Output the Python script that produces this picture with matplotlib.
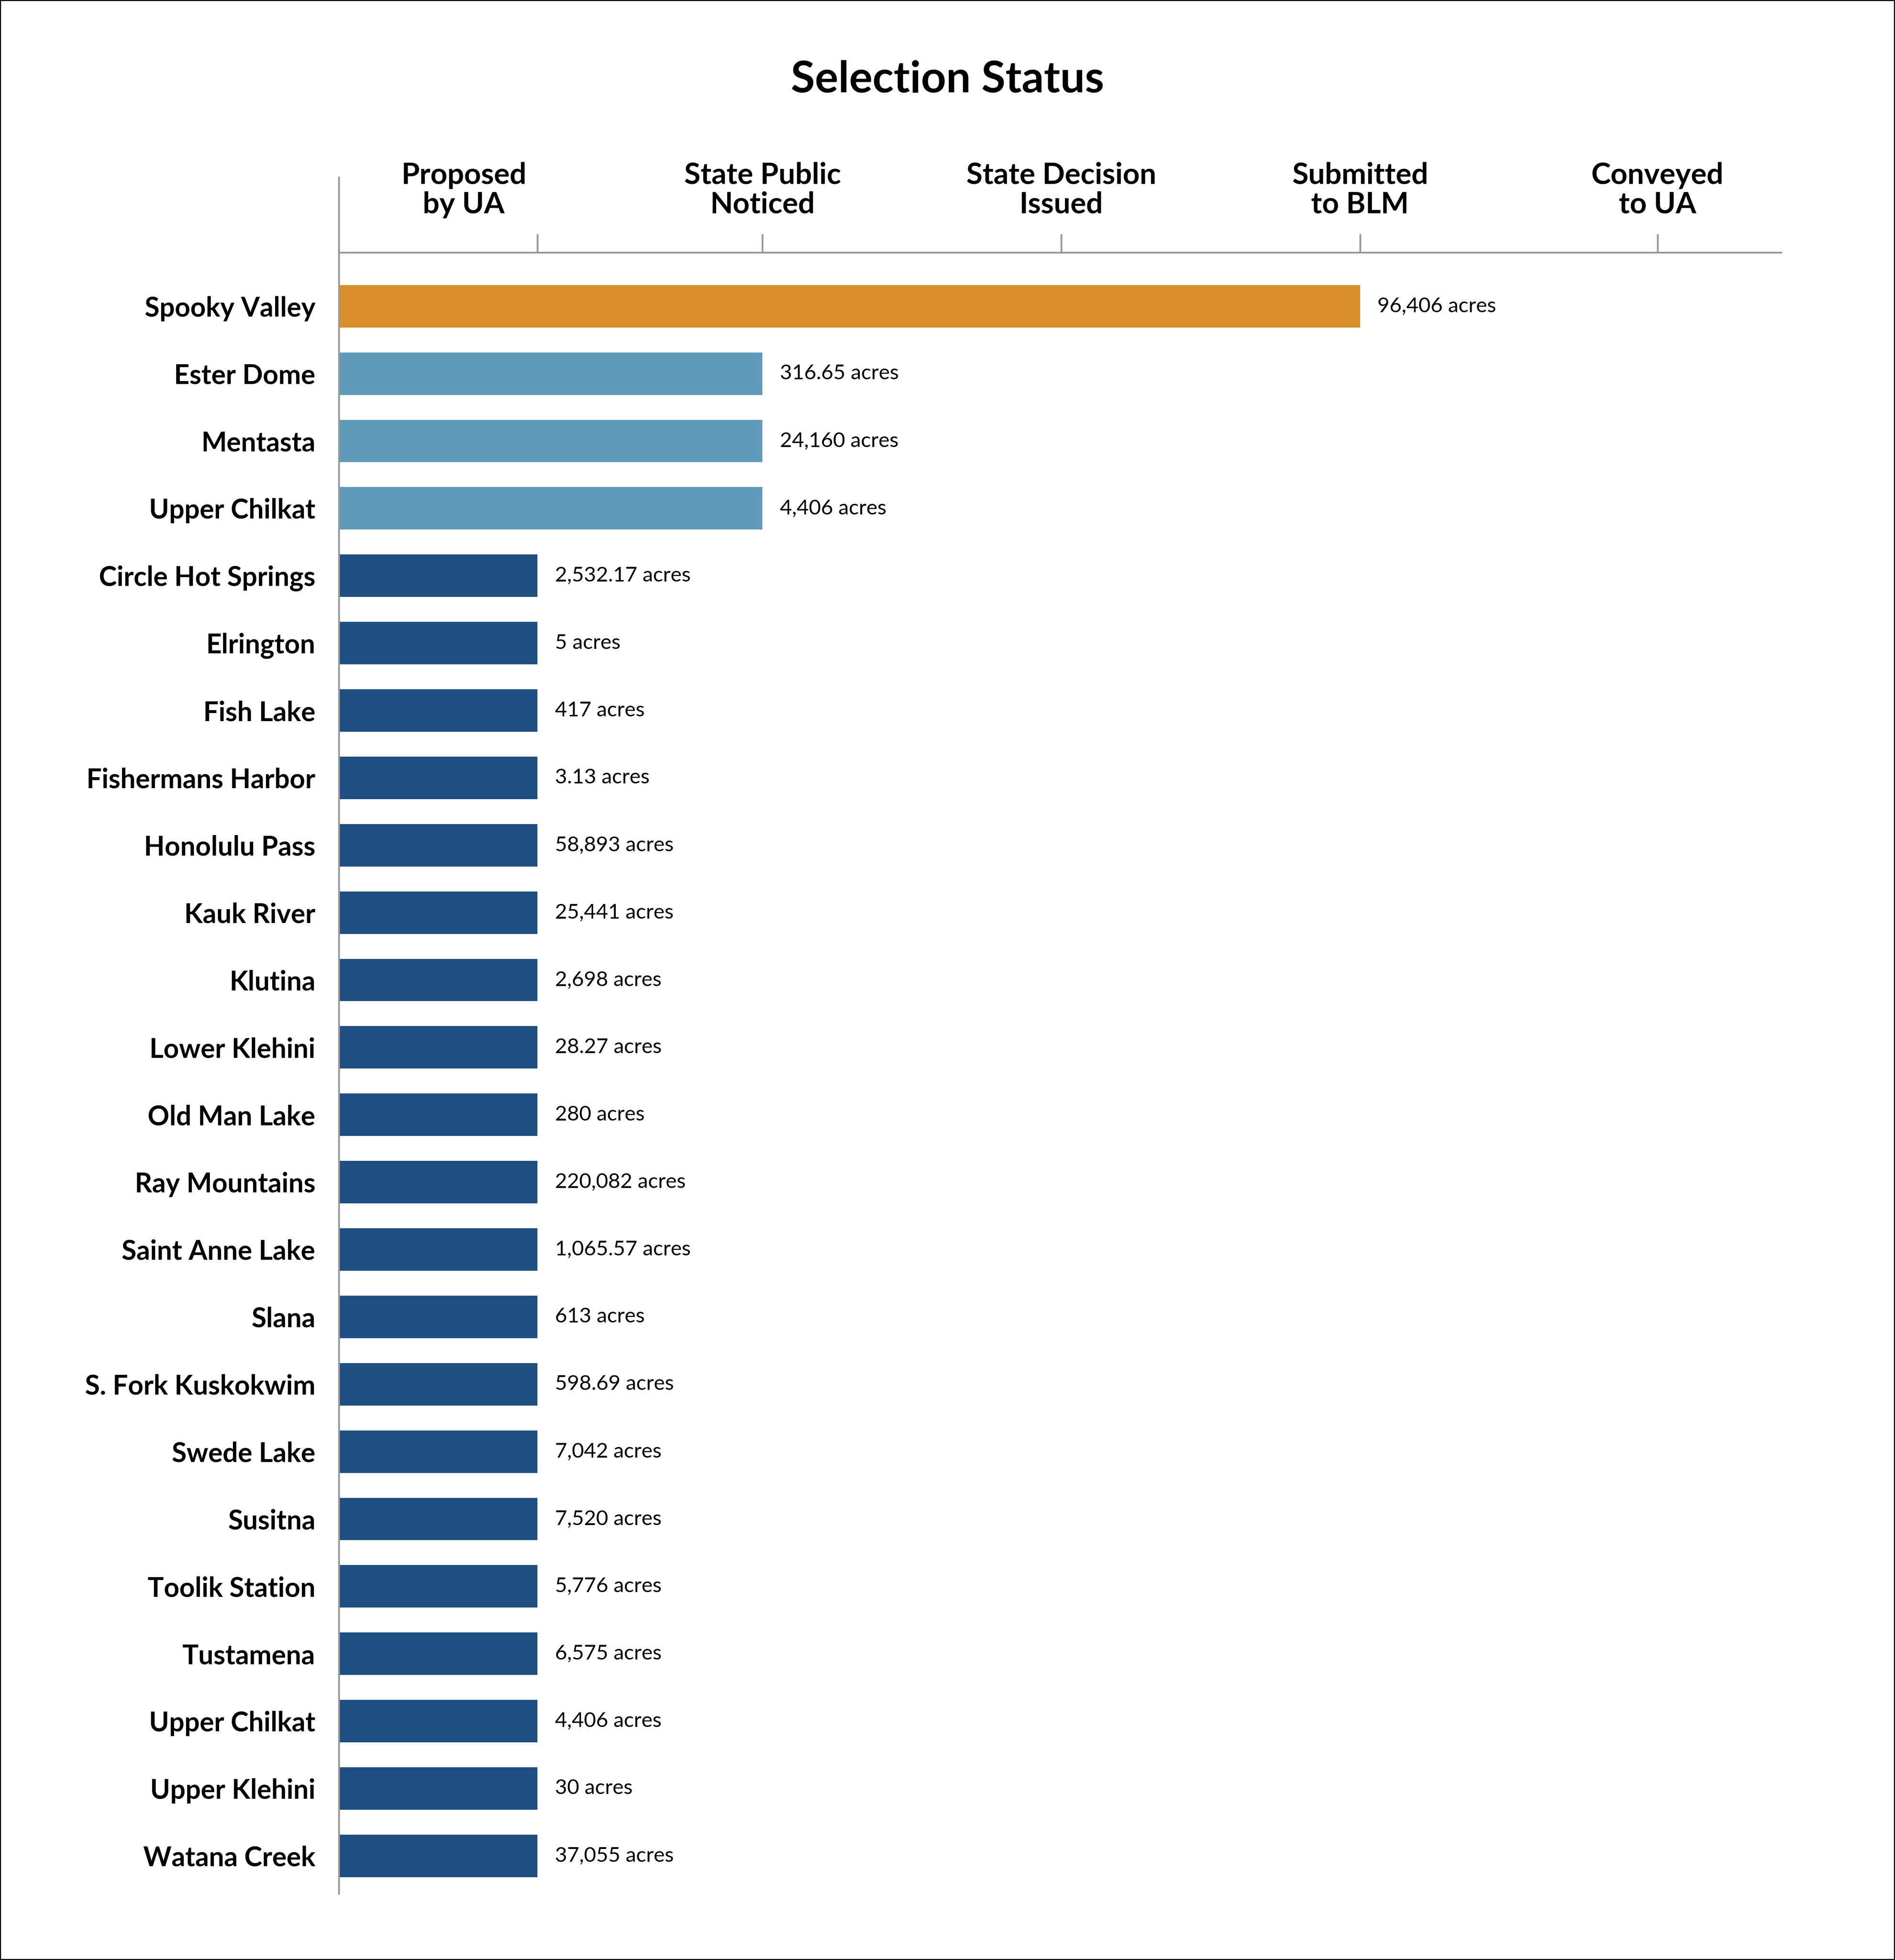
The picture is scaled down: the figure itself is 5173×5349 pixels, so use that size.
import matplotlib.pyplot as plt
from matplotlib.patches import Rectangle

sites = ["Spooky Valley", "Ester Dome", "Mentasta", "Upper Chilkat", "Circle Hot Springs",
         "Elrington", "Fish Lake", "Fishermans Harbor", "Honolulu Pass", "Kauk River",
         "Klutina", "Lower Klehini", "Old Man Lake", "Ray Mountains", "Saint Anne Lake",
         "Slana", "S. Fork Kuskokwim", "Swede Lake", "Susitna", "Toolik Station",
         "Tustamena", "Upper Chilkat", "Upper Klehini", "Watana Creek"]
acres = ["96,406", "316.65", "24,160", "4,406", "2,532.17", "5", "417", "3.13", "58,893",
         "25,441", "2,698", "28.27", "280", "220,082", "1,065.57", "613", "598.69",
         "7,042", "7,520", "5,776", "6,575", "4,406", "30", "37,055"]
# stage reached: 0 = proposed, 1 = state public noticed, 3 = submitted to BLM
stage = [3, 1, 1, 1] + [0] * 20

stages = ["Proposed\nby UA", "State Public\nNoticed", "State Decision\nIssued",
          "Submitted\nto BLM", "Conveyed\nto UA"]
stage_ends = [159, 339, 578, 817, 1055]      # tick positions along the axis
header_pos = [100, 339, 578, 817, 1055]      # header label centres
colors = {0: "#1E4F80", 1: "#5F9BB8", 3: "#D98F2B"}

W, H = 1516, 1568
fig = plt.figure(figsize=(51.73, 53.49), dpi=100)
fig.patches.append(Rectangle((0, 0), 1, 1, transform=fig.transFigure, fill=False,
                             edgecolor="black", linewidth=4))
ax = fig.add_axes([271 / W, 1 - 1515 / H, 1154 / W, (1515 - 142) / H])

row = 53.9
top = (142 - 245) / row
bot = (1515 - 245) / row
ax.set_ylim(bot, top)
ax.set_xlim(0, 1154)

ends = [stage_ends[s] for s in stage]
ax.barh(range(len(sites)), ends, height=0.63, color=[colors[s] for s in stage])
for i, (e, a) in enumerate(zip(ends, acres)):
    ax.text(e + 14, i, f"{a} acres", va="center", ha="left", fontsize=41,
            family="Lato")

ax.set_yticks(range(len(sites)))
ax.set_yticklabels(sites, fontsize=53, fontweight="bold", family="Lato")
ax.tick_params(axis="y", length=0, pad=46)
ax.set_xticks([])
for s in ["top", "right", "bottom"]:
    ax.spines[s].set_visible(False)
ax.spines["left"].set_color("#999999")
ax.spines["left"].set_linewidth(3.5)

hline = (202 - 245) / row
ax.plot([0, 1154], [hline, hline], color="#999999", lw=3.5, clip_on=False)
for t in stage_ends:
    ax.plot([t, t], [hline, (188 - 245) / row], color="#999999", lw=3.5, clip_on=False)
for p, lab in zip(header_pos, stages):
    ax.text(p, (152 - 245) / row, lab, ha="center", va="center", fontsize=58,
            fontweight="bold", family="Lato", linespacing=1.1)

fig.text(758 / W, 1 - 64 / H, "Selection Status", ha="center", va="center",
         fontsize=86, fontweight="bold", family="Lato")

fig.savefig("out.png", dpi=100)
